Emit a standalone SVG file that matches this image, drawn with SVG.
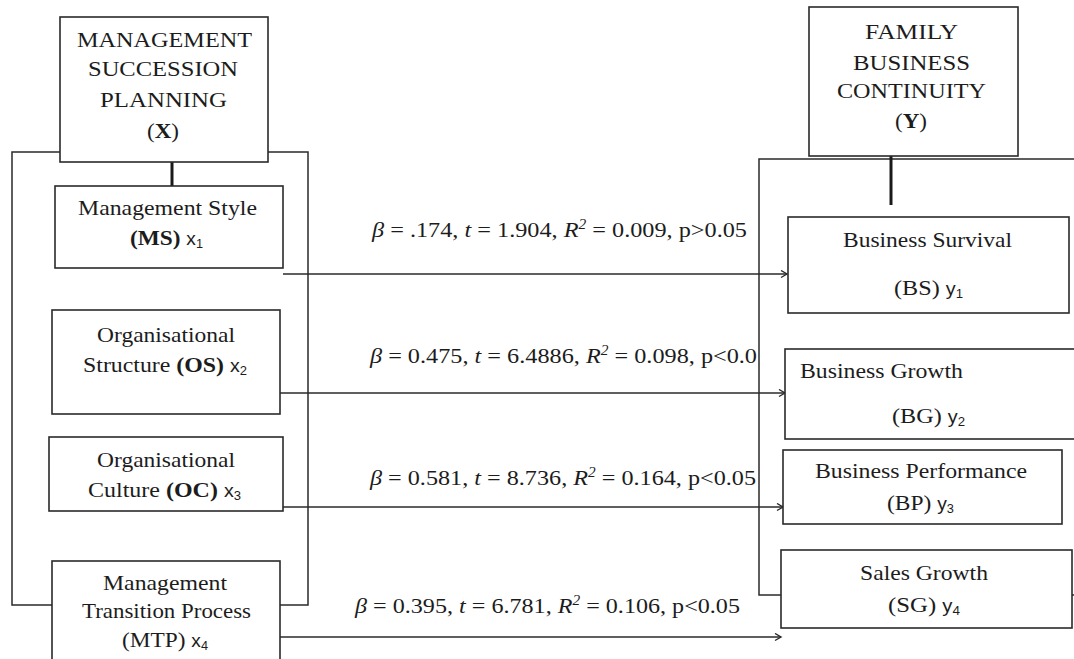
<svg xmlns="http://www.w3.org/2000/svg" width="1074" height="659" viewBox="0 0 1074 659">
<style>
.frame{fill:none;stroke:#2a2a2a;stroke-width:1.5}
.box{fill:#fff;stroke:#2a2a2a;stroke-width:1.6}
.thick{stroke:#1a1a1a;stroke-width:3;fill:none}
.arr{stroke:#2a2a2a;stroke-width:1.4;fill:none;marker-end:url(#ah)}
text{font-family:"Liberation Serif","Times New Roman",serif;font-size:22px;fill:#1c1c1c}
.sub{font-family:"Liberation Sans",Arial,sans-serif;font-size:18px}
.subn{font-family:"Liberation Sans",Arial,sans-serif;font-size:12px}
.b{font-weight:bold}
.i{font-style:italic}
</style>
<defs>
<marker id="ah" markerWidth="10" markerHeight="10" refX="7" refY="4" orient="auto" markerUnits="userSpaceOnUse">
<polyline points="1,0.5 7,4 1,7.5" fill="none" stroke="#2a2a2a" stroke-width="1.4"/>
</marker>
</defs>
<rect width="1074" height="659" fill="#fff"/>
<g id="frames">
<rect class="frame" x="12" y="152" width="296" height="453"/>
<rect class="frame" x="759" y="159" width="330" height="436"/>
</g>
<g id="connectors">
<line class="thick" x1="172" y1="162" x2="172" y2="198"/>
<line class="thick" x1="891" y1="156" x2="891" y2="205"/>
<line class="arr" x1="283" y1="274" x2="787" y2="274"/>
<line class="arr" x1="280" y1="393" x2="785" y2="393"/>
<line class="arr" x1="283" y1="507" x2="783" y2="507"/>
<line class="arr" x1="280" y1="637" x2="781" y2="637"/>
</g>
<g id="node-X">
<rect class="box" x="60" y="17" width="208" height="145"/>
<text x="77" y="47" textLength="175" lengthAdjust="spacingAndGlyphs">MANAGEMENT</text>
<text x="88" y="76" textLength="150" lengthAdjust="spacingAndGlyphs">SUCCESSION</text>
<text x="100" y="107" textLength="127" lengthAdjust="spacingAndGlyphs">PLANNING</text>
<text x="147" y="138" textLength="32" lengthAdjust="spacingAndGlyphs">(<tspan class="b">X</tspan>)</text>
</g>
<g id="node-MS">
<rect class="box" x="55" y="186" width="228" height="82"/>
<text x="78" y="215" textLength="179" lengthAdjust="spacingAndGlyphs">Management Style</text>
<text x="130" y="245" textLength="73" lengthAdjust="spacingAndGlyphs"><tspan class="b">(MS)</tspan> <tspan class="sub">x</tspan><tspan class="subn" baseline-shift="-3">1</tspan></text>
</g>
<g id="node-OS">
<rect class="box" x="52" y="310" width="228" height="104"/>
<text x="97" y="342" textLength="138" lengthAdjust="spacingAndGlyphs">Organisational</text>
<text x="83" y="372" textLength="164" lengthAdjust="spacingAndGlyphs">Structure <tspan class="b">(OS)</tspan> <tspan class="sub">x</tspan><tspan class="subn" baseline-shift="-3">2</tspan></text>
</g>
<g id="node-OC">
<rect class="box" x="49" y="437" width="234" height="74"/>
<text x="97" y="467" textLength="138" lengthAdjust="spacingAndGlyphs">Organisational</text>
<text x="88" y="497" textLength="153" lengthAdjust="spacingAndGlyphs">Culture <tspan class="b">(OC)</tspan> <tspan class="sub">x</tspan><tspan class="subn" baseline-shift="-3">3</tspan></text>
</g>
<g id="node-MTP">
<rect class="box" x="52" y="561" width="228" height="110"/>
<text x="103" y="590" textLength="124" lengthAdjust="spacingAndGlyphs">Management</text>
<text x="82" y="618" textLength="169" lengthAdjust="spacingAndGlyphs">Transition Process</text>
<text x="122" y="647" textLength="86" lengthAdjust="spacingAndGlyphs">(MTP) <tspan class="sub">x</tspan><tspan class="subn" baseline-shift="-3">4</tspan></text>
</g>
<g id="node-Y">
<rect class="box" x="809" y="7" width="209" height="149"/>
<text x="865" y="39" textLength="93" lengthAdjust="spacingAndGlyphs">FAMILY</text>
<text x="853" y="70" textLength="117" lengthAdjust="spacingAndGlyphs">BUSINESS</text>
<text x="837" y="98" textLength="149" lengthAdjust="spacingAndGlyphs">CONTINUITY</text>
<text x="895" y="128" textLength="32" lengthAdjust="spacingAndGlyphs">(<tspan class="b">Y</tspan>)</text>
</g>
<g id="node-BS">
<rect class="box" x="788" y="217" width="281" height="96"/>
<text x="843" y="247" textLength="169" lengthAdjust="spacingAndGlyphs">Business Survival</text>
<text x="894" y="295" textLength="69" lengthAdjust="spacingAndGlyphs">(BS) <tspan class="sub">y</tspan><tspan class="subn" baseline-shift="-3">1</tspan></text>
</g>
<g id="node-BG">
<rect class="box" x="785" y="349" width="300" height="90"/>
<text x="800" y="378" textLength="163" lengthAdjust="spacingAndGlyphs">Business Growth</text>
<text x="892" y="423" textLength="73" lengthAdjust="spacingAndGlyphs">(BG) <tspan class="sub">y</tspan><tspan class="subn" baseline-shift="-3">2</tspan></text>
</g>
<g id="node-BP">
<rect class="box" x="783" y="450" width="279" height="74"/>
<text x="815" y="478" textLength="212" lengthAdjust="spacingAndGlyphs">Business Performance</text>
<text x="887" y="510" textLength="67" lengthAdjust="spacingAndGlyphs">(BP) <tspan class="sub">y</tspan><tspan class="subn" baseline-shift="-3">3</tspan></text>
</g>
<g id="node-SG">
<rect class="box" x="781" y="550" width="291" height="78"/>
<text x="860" y="580" textLength="128" lengthAdjust="spacingAndGlyphs">Sales Growth</text>
<text x="888" y="612" textLength="72" lengthAdjust="spacingAndGlyphs">(SG) <tspan class="sub">y</tspan><tspan class="subn" baseline-shift="-3">4</tspan></text>
</g>
<g id="labels">
<text x="372" y="237" textLength="375" lengthAdjust="spacingAndGlyphs"><tspan class="i">β</tspan> = .174, <tspan class="i">t</tspan> = 1.904, <tspan class="i">R</tspan><tspan class="i" font-size="14" baseline-shift="8">2</tspan> = 0.009, p&gt;0.05</text>
<text x="370" y="363" textLength="387" lengthAdjust="spacingAndGlyphs"><tspan class="i">β</tspan> = 0.475, <tspan class="i">t</tspan> = 6.4886, <tspan class="i">R</tspan><tspan class="i" font-size="14" baseline-shift="8">2</tspan> = 0.098, p&lt;0.0</text>
<text x="370" y="485" textLength="386" lengthAdjust="spacingAndGlyphs"><tspan class="i">β</tspan> = 0.581, <tspan class="i">t</tspan> = 8.736, <tspan class="i">R</tspan><tspan class="i" font-size="14" baseline-shift="8">2</tspan> = 0.164, p&lt;0.05</text>
<text x="355" y="613" textLength="385" lengthAdjust="spacingAndGlyphs"><tspan class="i">β</tspan> = 0.395, <tspan class="i">t</tspan> = 6.781, <tspan class="i">R</tspan><tspan class="i" font-size="14" baseline-shift="8">2</tspan> = 0.106, p&lt;0.05</text>
</g>
</svg>
